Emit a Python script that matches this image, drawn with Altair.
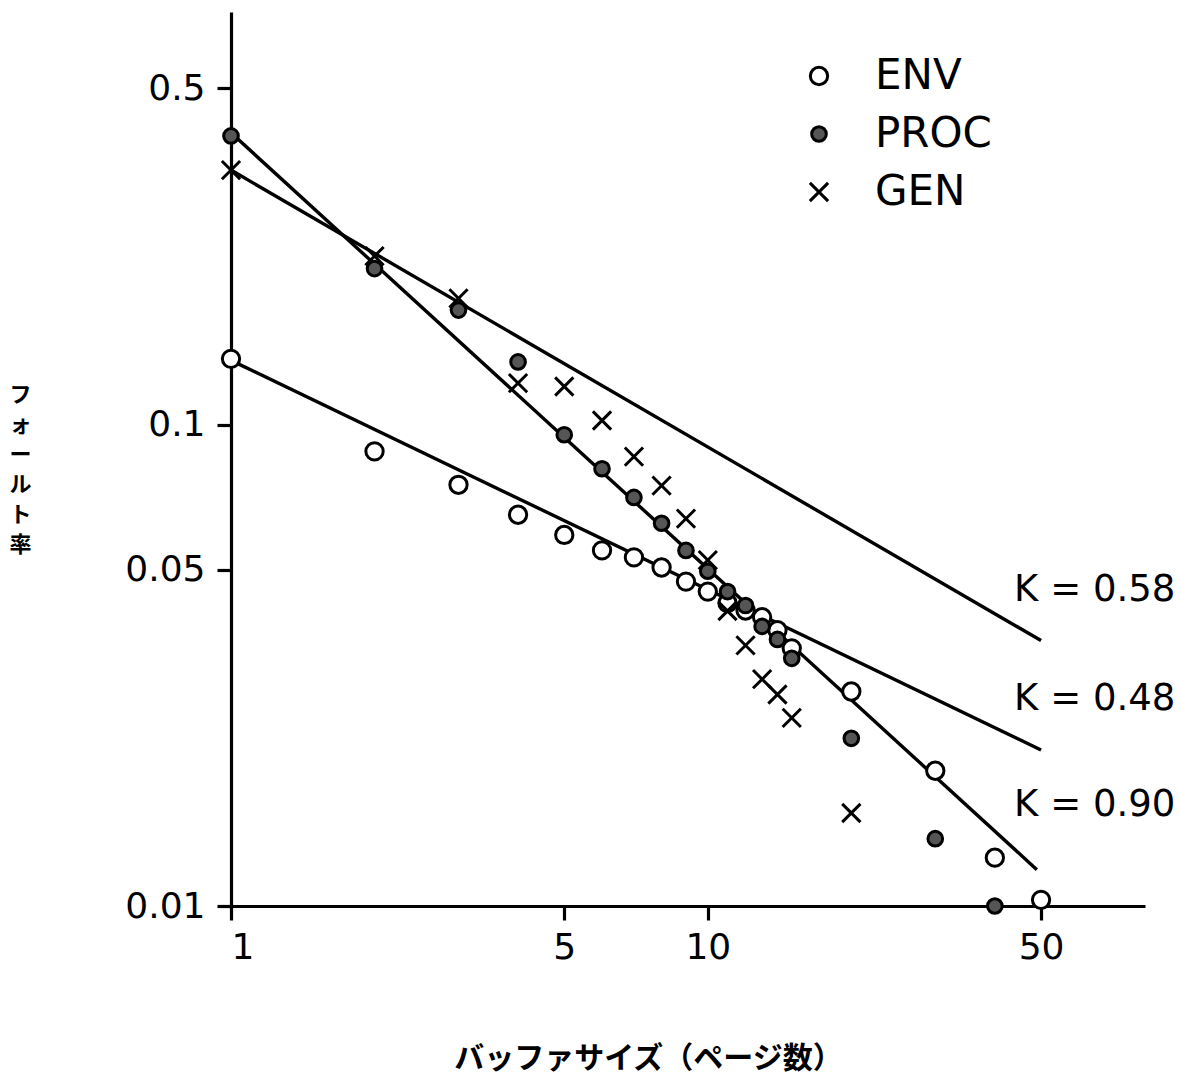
import altair as alt
import pandas as pd

# ---- data ----
env_size = [1, 2, 3, 4, 5, 6, 7, 8, 9, 10, 11, 12, 13, 14, 15, 20, 30, 40, 50]
env_rate = [0.137, 0.088, 0.075, 0.065, 0.059, 0.0548, 0.053, 0.0505, 0.0472, 0.045,
            0.0426, 0.0411, 0.0398, 0.0374, 0.0343, 0.0279, 0.0191, 0.0126, 0.0103]
proc_size = [1, 2, 3, 4, 5, 6, 7, 8, 9, 10, 11, 12, 13, 14, 15, 20, 30, 40]
proc_rate = [0.398, 0.211, 0.173, 0.135, 0.0953, 0.081, 0.0706, 0.0624, 0.0548, 0.0496,
             0.045, 0.0421, 0.0381, 0.0358, 0.0327, 0.0223, 0.0138, 0.0100]
gen_size = [1, 2, 3, 4, 5, 6, 7, 8, 9, 10, 11, 12, 13, 14, 15, 20]
gen_rate = [0.338, 0.224, 0.183, 0.122, 0.120, 0.102, 0.0858, 0.0747, 0.0638, 0.0523,
            0.041, 0.0348, 0.0296, 0.0275, 0.0246, 0.0156]

series_names = ["ENV", "PROC", "GEN"]

fit_label = ["K = 0.58", "K = 0.48", "K = 0.90"]
fit_x_start = [1, 1, 1]
fit_x_end = [50, 50, 49]
fit_y_start = [0.338, 0.136, 0.404]
fit_y_end = [0.0356, 0.0211, 0.0119]
label_x = [43.9, 43.9, 43.9]
label_y = [0.0453, 0.0269, 0.0162]

x_ticks = [1, 5, 10, 50]
y_ticks = [0.01, 0.05, 0.1, 0.5]

# ---- tables ----
pts = pd.concat([
    pd.DataFrame({"size": env_size, "rate": env_rate, "series": "ENV"}),
    pd.DataFrame({"size": proc_size, "rate": proc_rate, "series": "PROC"}),
    pd.DataFrame({"size": gen_size, "rate": gen_rate, "series": "GEN"}),
], ignore_index=True)

lines_rows = []
for i, k in enumerate(fit_label):
    lines_rows.append({"k": k, "size": fit_x_start[i], "rate": fit_y_start[i]})
    lines_rows.append({"k": k, "size": fit_x_end[i], "rate": fit_y_end[i]})
lines_df = pd.DataFrame(lines_rows)

labels_df = pd.DataFrame({"size": label_x, "rate": label_y, "text": fit_label})

FONT = "DejaVu Sans"
JP = "Noto Sans CJK JP"

xscale = alt.Scale(type="log", domain=[1, 82.6], nice=False)
yscale = alt.Scale(type="log", domain=[0.01, 0.72], nice=False)

x_axis = alt.Axis(
    values=x_ticks, format="d", grid=False,
    domainColor="black", domainWidth=3.2, tickColor="black", tickWidth=3.2, tickSize=14,
    labelFont=FONT, labelFontSize=36, labelColor="black", labelPadding=10,
    title="バッファサイズ（ページ数）", titleFont=JP, titleFontSize=30, titleFontWeight="bold",
    titleColor="black", titleX=417, titleY=152, titleAlign="center", titleBaseline="middle",
    titleAnchor="start",
)
y_axis = alt.Axis(
    values=y_ticks, format="~g", grid=False,
    domainColor="black", domainWidth=3.2, tickColor="black", tickWidth=3.2, tickSize=14,
    labelFont=FONT, labelFontSize=36, labelColor="black", labelPadding=12,
    title=["フ", "ォ", "ー", "ル", "ト", "率"], titleFont=JP, titleFontSize=22,
    titleFontWeight="bold", titleColor="black", titleAngle=0, titleX=-211, titleY=372,
    titleAlign="center", titleBaseline="top", titleLineHeight=30, titleAnchor="start",
)

lines = alt.Chart(lines_df).mark_line(color="black", strokeWidth=3.4).encode(
    x=alt.X("size:Q", scale=xscale, axis=x_axis),
    y=alt.Y("rate:Q", scale=yscale, axis=y_axis),
    detail="k:N",
)

legend = alt.Legend(
    orient="none", legendX=567, legendY=43, title=None,
    labelFont=FONT, labelFontSize=42, labelColor="black",
    symbolStrokeWidth=3,
    labelOffset=35, rowPadding=16, padding=0, symbolOffset=0,
)

cross = "M-1.6,-1.6L1.6,1.6M-1.6,1.6L1.6,-1.6"
points = alt.Chart(pts).mark_point(strokeWidth=3, opacity=1).encode(
    x=alt.X("size:Q", scale=xscale),
    y=alt.Y("rate:Q", scale=yscale),
    shape=alt.Shape("series:N", scale=alt.Scale(domain=series_names, range=["circle", "circle", cross]), legend=legend),
    fill=alt.Fill("series:N", scale=alt.Scale(domain=series_names, range=["white", "#555555", "transparent"]), legend=legend),
    stroke=alt.Stroke("series:N", scale=alt.Scale(domain=series_names, range=["black", "black", "black"]), legend=legend),
    size=alt.Size("series:N", scale=alt.Scale(domain=series_names, range=[300, 130, 300]), legend=legend),
)

klabels = alt.Chart(labels_df).mark_text(
    align="left", baseline="middle", font=FONT, fontSize=37, color="black"
).encode(
    x=alt.X("size:Q", scale=xscale),
    y=alt.Y("rate:Q", scale=yscale),
    text="text:N",
)

chart = alt.layer(lines, points, klabels).properties(
    width=914, height=894,
    autosize=alt.AutoSizeParams(type="none"),
    padding={"left": 231, "top": 12, "right": 34, "bottom": 173},
    background="white",
).configure_view(stroke=None)

chart.save("out.html", embed_options={"renderer": "svg", "actions": False})
